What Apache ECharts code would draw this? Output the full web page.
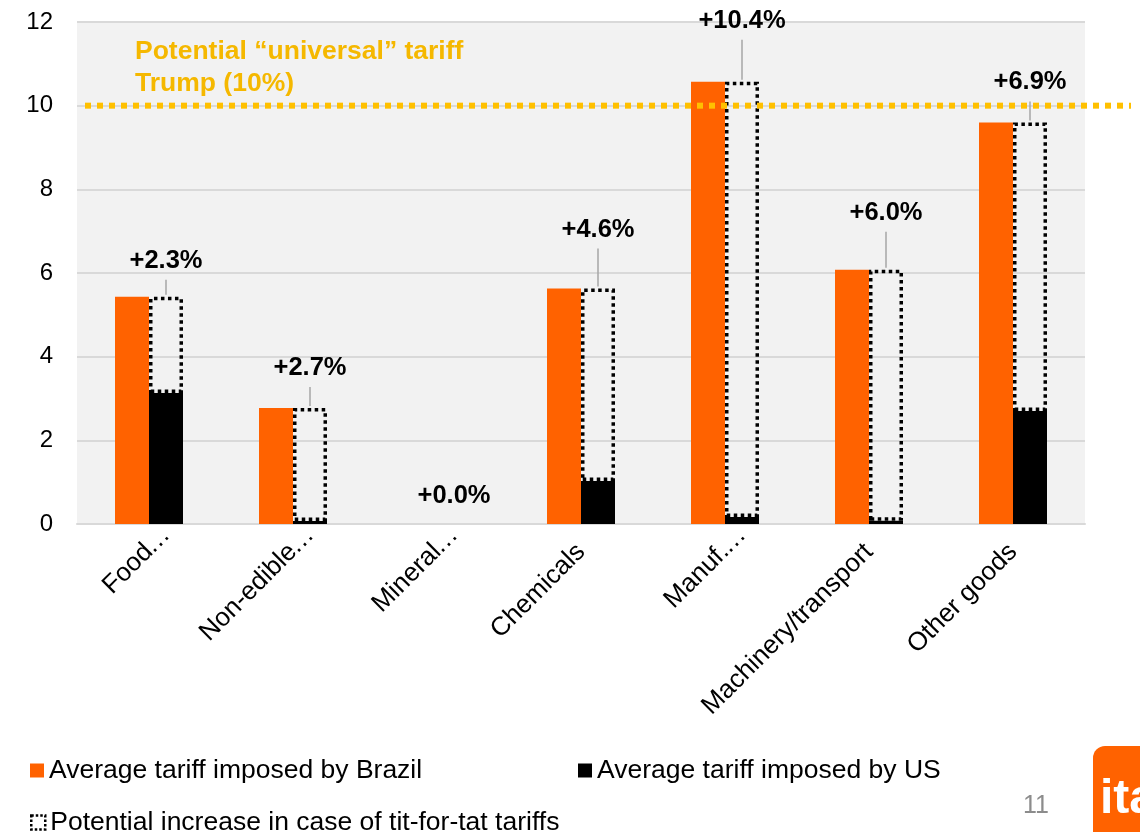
<!DOCTYPE html>
<html>
<head>
<meta charset="utf-8">
<title>Average tariffs by product group</title>
<script src="https://cdn.jsdelivr.net/npm/echarts@6/dist/echarts.min.js"></script>
<style>
  html, body { margin: 0; padding: 0; background: #ffffff; }
  #chart { width: 1140px; height: 832px; }
</style>
</head>
<body>
<div id="chart"></div>
<script>
// Product groups (labels as shown on the axis)
const categories = ['Food…', 'Non-edible…', 'Mineral…', 'Chemicals', 'Manuf.…', 'Machinery/transport', 'Other goods'];

// Average tariff (%) imposed by Brazil on US goods
const brazilTariff = [5.43, 2.77, 0, 5.63, 10.57, 6.08, 9.6];
// Average tariff (%) imposed by the US on Brazilian goods
const usTariff = [3.13, 0.07, 0, 1.03, 0.17, 0.08, 2.7];
// Potential increase (p.p.) in case of tit-for-tat tariffs
const potentialIncrease = [2.3, 2.7, 0.0, 4.6, 10.4, 6.0, 6.9];

// Potential "universal" tariff (%)
const universalTariff = 10;

// Y axis ticks
const yMin = 0, yMax = 12, yStep = 2;

// Series names
const NAME_BR = 'Average tariff imposed by Brazil';
const NAME_US = 'Average tariff imposed by US';
const NAME_INC = 'Potential increase in case of tit-for-tat tariffs';

// Layout constants
const FONT = '"Liberation Sans", Arial, Helvetica, sans-serif';
const ORANGE = '#ff6200';
const GOLD = '#ffc000';
const BAR_W = 34;
const X_LABEL_MARGIN = 24;
// How far (px) each increase label sits above its dotted box
const labelLift = [36, 40, 28, 59, 61, 57, 40];

const chart = echarts.init(document.getElementById('chart'), null, { renderer: 'canvas' });

const legendBase = {
  orient: 'horizontal',
  itemWidth: 14,
  itemHeight: 14,
  icon: 'rect',
  selectedMode: false,
  padding: 0,
  textStyle: { fontFamily: FONT, fontSize: 26.5, color: '#000' }
};

const option = {
  backgroundColor: '#ffffff',
  animation: false,
  grid: {
    left: 77, right: 55, top: 22, bottom: 308,
    show: true, backgroundColor: '#f2f2f2', borderWidth: 0
  },
  legend: [
    Object.assign({}, legendBase, { data: [NAME_BR], left: 30, top: 757 }),
    Object.assign({}, legendBase, { data: [NAME_US], left: 578, top: 757 }),
    Object.assign({}, legendBase, {
      data: [NAME_INC], left: 30, top: 809,
      itemStyle: { color: 'rgba(0,0,0,0)', borderColor: '#000', borderWidth: 2.5, borderType: [2.5, 2] }
    })
  ],
  xAxis: {
    type: 'category',
    data: categories,
    axisTick: { show: false },
    axisLine: { show: true, lineStyle: { color: '#d9d9d9', width: 2 } },
    // category names are drawn by the 'categoryLabels' series below
    axisLabel: { show: false }
  },
  yAxis: {
    type: 'value',
    min: yMin, max: yMax, interval: yStep,
    axisLine: { show: false },
    axisTick: { show: false },
    splitLine: { show: true, lineStyle: { color: '#d9d9d9', width: 2 } },
    axisLabel: { margin: 24, fontFamily: FONT, fontSize: 24, color: '#000' }
  },
  series: [
    {
      name: NAME_BR,
      type: 'bar',
      data: brazilTariff,
      barWidth: BAR_W,
      barGap: '0%',
      itemStyle: { color: ORANGE },
      z: 2
    },
    {
      name: NAME_US,
      type: 'bar',
      stack: 'us',
      data: usTariff,
      barWidth: BAR_W,
      itemStyle: { color: '#000000' },
      z: 2
    },
    {
      name: NAME_INC,
      type: 'bar',
      stack: 'us',
      data: potentialIncrease.map(v => (v === 0 ? '-' : v)),
      barWidth: BAR_W,
      itemStyle: {
        color: 'rgba(0,0,0,0)',
        borderColor: '#000000',
        borderWidth: 3.5,
        borderType: [3.5, 3.5]
      },
      z: 3
    },
    {
      // Rotated category names; a trailing ellipsis hangs past the anchor
      name: 'categoryLabels',
      type: 'custom',
      coordinateSystem: 'cartesian2d',
      silent: true,
      clip: false,
      z: 5,
      encode: { x: 0, y: 1 },
      data: categories.map((c, i) => [i, 0]),
      renderItem: function (params, api) {
        const idx = params.dataIndex;
        const name = categories[idx];
        const pt = api.coord([api.value(0), 0]);
        const truncated = name.endsWith('…');
        const stem = truncated ? name.slice(0, -1) : name;
        const textStyle = { font: '26px ' + FONT, fill: '#000', verticalAlign: 'middle' };
        const children = [{
          type: 'text',
          style: Object.assign({ text: stem, x: 0, y: 0, align: 'right' }, textStyle)
        }];
        if (truncated) {
          children.push({
            type: 'text',
            style: Object.assign({ text: '…', x: -2, y: 0, align: 'left' }, textStyle)
          });
        }
        return {
          type: 'group',
          x: pt[0], y: pt[1] + X_LABEL_MARGIN,
          rotation: Math.PI / 4,
          children: children
        };
      }
    },
    {
      // Increase labels with their leader lines
      name: 'increaseLabels',
      type: 'custom',
      coordinateSystem: 'cartesian2d',
      silent: true,
      clip: false,
      z: 5,
      encode: { x: 0, y: 1 },
      data: categories.map((c, i) => [i, usTariff[i] + potentialIncrease[i], potentialIncrease[i], labelLift[i]]),
      renderItem: function (params, api) {
        const pt = api.coord([api.value(0), api.value(1)]);
        const cx = pt[0] + BAR_W / 2;
        const top = pt[1];
        const lift = api.value(3);
        const ly = top - lift;
        const children = [{
          type: 'text',
          style: {
            text: '+' + api.value(2).toFixed(1) + '%',
            x: cx, y: ly,
            align: 'center', verticalAlign: 'middle',
            font: 'bold 25.5px ' + FONT,
            fill: '#000'
          }
        }];
        if (lift > 30) {
          children.push({
            type: 'line',
            shape: { x1: cx, y1: ly + 19, x2: cx, y2: top - 2 },
            style: { stroke: '#a6a6a6', lineWidth: 1.5 }
          });
        }
        return { type: 'group', children: children };
      }
    },
    {
      // Universal tariff reference line with its caption
      name: 'universalTariff',
      type: 'custom',
      coordinateSystem: 'cartesian2d',
      silent: true,
      clip: false,
      z: 10,
      encode: { x: 0, y: 1 },
      data: [[0, universalTariff]],
      renderItem: function (params, api) {
        const cs = params.coordSys;
        const y = api.coord([0, api.value(1)])[1];
        return {
          type: 'group',
          children: [
            {
              type: 'line',
              shape: { x1: cs.x + 8, y1: y, x2: cs.x + cs.width + 46, y2: y },
              style: { stroke: GOLD, lineWidth: 6, lineDash: [6, 6] }
            },
            {
              type: 'text',
              style: {
                text: 'Potential “universal” tariff\nTrump (' + api.value(1) + '%)',
                x: cs.x + 58, y: y - 38,
                align: 'left', verticalAlign: 'middle',
                lineHeight: 32,
                font: 'bold 26.5px ' + FONT,
                fill: '#f5b800'
              }
            }
          ]
        };
      }
    }
  ],
  graphic: [
    {
      type: 'text',
      left: 1023, top: 794,
      style: { text: '11', font: '25px "Liberation Sans Narrow", ' + FONT, fill: '#8c8c8c' }
    },
    {
      type: 'group',
      left: 1093, top: 746,
      children: [
        { type: 'rect', shape: { x: 0, y: 0, width: 90, height: 110, r: 12 }, style: { fill: ORANGE } },
        { type: 'text', style: { text: 'ita', x: 7, y: 78, verticalAlign: 'bottom', font: 'bold 48px ' + FONT, fill: '#ffffff' } }
      ]
    }
  ]
};

chart.setOption(option);
</script>
</body>
</html>
